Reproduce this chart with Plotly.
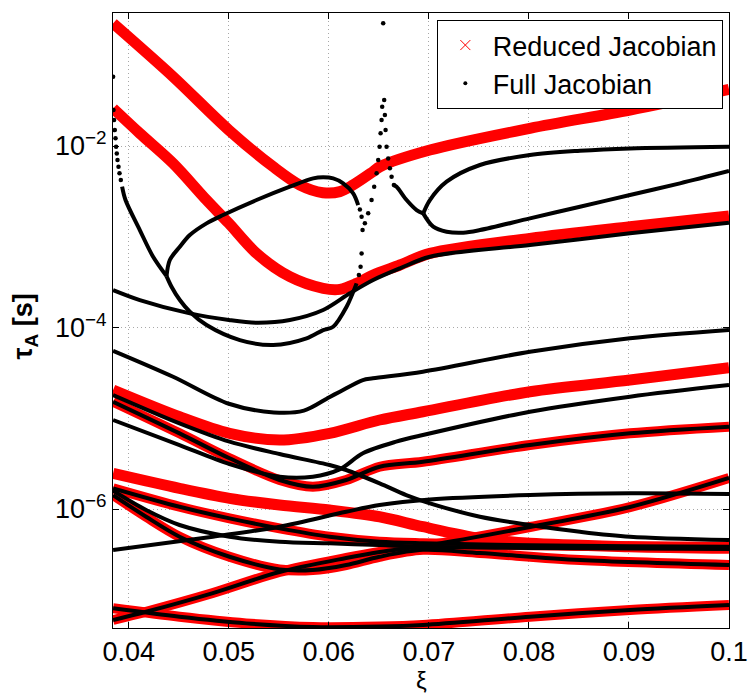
import numpy as np
import plotly.graph_objects as go

# ---------------- data (xi, log10 of tau_A) ----------------
# Reduced Jacobian (red) only
R1_XI = [0.03843, 0.04443, 0.0500, 0.05443, 0.0571, 0.0594, 0.0611, 0.0624, 0.0644, 0.0651, 0.0701, 0.0801, 0.0901, 0.1000]
R1_LG = [-0.648, -1.236, -1.824, -2.228, -2.430, -2.514, -2.503, -2.430, -2.283, -2.228, -2.044, -1.805, -1.603, -1.375]

R2_XI = [0.03843, 0.0411, 0.04443, 0.04777, 0.0500, 0.05277, 0.0561, 0.05943, 0.0611, 0.06277, 0.06443, 0.0671, 0.0701, 0.0801, 0.0901, 0.1000]
R2_LG = [-1.585, -1.860, -2.191, -2.595, -2.852, -3.183, -3.440, -3.568, -3.579, -3.513, -3.421, -3.311, -3.183, -3.017, -2.889, -2.771]

R3_XI = [0.03843, 0.04507, 0.05007, 0.05507, 0.06007, 0.06507, 0.0694, 0.0801, 0.0901, 0.1000]
R3_LG = [-4.689, -4.983, -5.166, -5.240, -5.166, -5.019, -4.928, -4.707, -4.579, -4.443]

R5_XI = [0.03843, 0.04507, 0.05007, 0.05507, 0.06007, 0.06507, 0.0694, 0.0751, 0.0801, 0.0901, 0.1000]
R5_LG = [-5.607, -5.772, -5.882, -5.956, -6.011, -6.085, -6.195, -6.323, -6.378, -6.415, -6.433]

# Curves where both Jacobians agree (red under black)
R4_XI = [0.03843, 0.04507, 0.05007, 0.05507, 0.0584, 0.06173, 0.06507, 0.0694, 0.0801, 0.0901, 0.1000]
R4_LG = [-4.818, -5.166, -5.441, -5.680, -5.754, -5.680, -5.534, -5.479, -5.295, -5.166, -5.093]

K1_XI = [0.03843, 0.04507, 0.05007, 0.05507, 0.06007, 0.06507, 0.0694, 0.0801, 0.0901, 0.1000]
K1_LG = [-5.772, -5.975, -6.103, -6.213, -6.305, -6.360, -6.378, -6.400, -6.410, -6.415]

K3_XI = [0.03843, 0.04173, 0.04507, 0.05007, 0.05507, 0.0584, 0.06173, 0.06507, 0.0694, 0.0751, 0.0851, 0.1000]
K3_LG = [-5.846, -6.085, -6.305, -6.526, -6.665, -6.672, -6.617, -6.526, -6.450, -6.485, -6.562, -6.617]

A_XI = [0.03843, 0.04173, 0.0484, 0.05507, 0.06173, 0.06507, 0.0701, 0.0801, 0.0901, 0.1000]
A_LG = [-7.223, -7.132, -6.926, -6.694, -6.540, -6.474, -6.397, -6.198, -5.978, -5.658]

C_XI = [0.03843, 0.04507, 0.05173, 0.0584, 0.0651, 0.0694, 0.0801, 0.0901, 0.1000]
C_LG = [-7.094, -7.187, -7.260, -7.300, -7.295, -7.278, -7.187, -7.113, -7.058]

# Full Jacobian (black) only
BMID_XI = [0.03843, 0.0411, 0.0461, 0.0500, 0.05277, 0.0561, 0.05943, 0.0621, 0.06443, 0.0671, 0.0701, 0.0801, 0.0901, 0.1000]
BMID_LG = [-3.587, -3.697, -3.844, -3.917, -3.947, -3.917, -3.807, -3.623, -3.477, -3.348, -3.220, -3.091, -2.962, -2.845]

D_XI = [0.03933, 0.03967, 0.0411, 0.04243, 0.04377]
D_LG = [-2.448, -2.595, -2.926, -3.220, -3.433]

LOOPU_XI = [0.04377, 0.0441, 0.0451, 0.0461, 0.04777, 0.04943, 0.05277, 0.0561, 0.05843, 0.05943, 0.06043, 0.06143, 0.06243, 0.06293]
LOOPU_LG = [-3.433, -3.256, -3.110, -2.981, -2.852, -2.760, -2.595, -2.448, -2.356, -2.345, -2.356, -2.411, -2.521, -2.650]

LOOPL_XI = [0.04377, 0.04427, 0.0451, 0.0461, 0.04777, 0.0511, 0.05443, 0.05777, 0.05943, 0.06043, 0.06177, 0.06277]
LOOPL_LG = [-3.433, -3.550, -3.697, -3.826, -3.972, -4.138, -4.193, -4.119, -4.028, -3.991, -3.771, -3.513]

SPIKER_XI = [0.0665, 0.06677, 0.06777, 0.06877, 0.06943]
SPIKER_LG = [-2.430, -2.448, -2.595, -2.705, -2.742]

RU_XI = [0.06943, 0.0701, 0.07177, 0.0751, 0.0801, 0.0851, 0.0901, 0.1000]
RU_LG = [-2.742, -2.595, -2.393, -2.209, -2.099, -2.052, -2.026, -2.007]

RL_XI = [0.06943, 0.07043, 0.07177, 0.07343, 0.0751, 0.0801, 0.0851, 0.0901, 0.0951, 0.1000]
RL_LG = [-2.742, -2.889, -2.944, -2.955, -2.926, -2.797, -2.669, -2.540, -2.411, -2.275]

B3_XI = [0.03843, 0.04443, 0.0500, 0.0545, 0.0575, 0.0600, 0.0611, 0.0634, 0.0644, 0.0694, 0.0801, 0.0901, 0.1000]
B3_LG = [-4.256, -4.542, -4.840, -4.935, -4.915, -4.770, -4.707, -4.579, -4.560, -4.487, -4.267, -4.119, -4.028]

BDESC_XI = [0.03843, 0.04507, 0.05007, 0.05507, 0.06007, 0.06173, 0.06507, 0.06773, 0.0701, 0.0751, 0.0801, 0.0851, 0.0901, 0.1000]
BDESC_LG = [-4.744, -5.056, -5.258, -5.394, -5.515, -5.570, -5.717, -5.846, -5.937, -6.085, -6.176, -6.250, -6.305, -6.342]

B5_XI = [0.03843, 0.04507, 0.05007, 0.05507, 0.0584, 0.06107, 0.0634, 0.06673, 0.0694, 0.0801, 0.0901, 0.1000]
B5_LG = [-5.019, -5.295, -5.504, -5.644, -5.644, -5.563, -5.386, -5.258, -5.185, -4.928, -4.762, -4.634]

K2_XI = [0.03843, 0.04173, 0.04507, 0.05007, 0.05507, 0.06007, 0.06507, 0.0694, 0.0801, 0.1000]
K2_LG = [-5.798, -6.011, -6.176, -6.305, -6.360, -6.378, -6.397, -6.415, -6.430, -6.440]

L_XI = [0.03843, 0.0484, 0.05507, 0.06173, 0.06507, 0.0701, 0.0801, 0.0901, 0.1000]
L_LG = [-6.452, -6.305, -6.195, -6.030, -5.956, -5.895, -5.846, -5.827, -5.835]

# sparse single points of the Full Jacobian where curves are steep
DOTS_XI = [0.03843, 0.03847, 0.03853, 0.0386, 0.03867, 0.03873, 0.0388, 0.03887, 0.03897, 0.03907, 0.0392,
           0.0631, 0.06327, 0.06337, 0.06327, 0.06317, 0.0630,
           0.0636, 0.06393, 0.06427, 0.06453, 0.06477, 0.06493, 0.06507, 0.06517, 0.06527, 0.06533, 0.06543,
           0.06553, 0.0656, 0.06567, 0.06577, 0.06593, 0.0661, 0.06627, 0.0665]
DOTS_LG = [-1.236, -1.603, -1.713, -1.824, -1.915, -2.007, -2.081, -2.154, -2.228, -2.301, -2.375,
           -2.700, -2.779, -2.926, -3.183, -3.330, -3.420,
           -2.852, -2.742, -2.595, -2.448, -2.301, -2.154, -2.007, -1.860, -1.713, -1.567, -0.648,
           -1.493, -1.658, -1.824, -2.007, -2.136, -2.246, -2.338, -2.430]

X_TICKS = [0.04, 0.05, 0.06, 0.07, 0.08, 0.09, 0.1]
X_TICK_TEXT = ["0.04", "0.05", "0.06", "0.07", "0.08", "0.09", "0.1"]
Y_TICKS = [1e-6, 1e-4, 1e-2]
Y_TICK_TEXT = ["10<sup>−6</sup>", "10<sup>−4</sup>", "10<sup>−2</sup>"]

# ---------------- figure ----------------
FONT = "Liberation Sans, Arial, Helvetica, sans-serif"
fig = go.Figure()


def tau(lg):
    return (10.0 ** np.array(lg)).tolist()


def add_line(xs, lg, color, width):
    fig.add_trace(go.Scatter(x=xs, y=tau(lg), mode="lines",
                             line=dict(color=color, width=width, shape="spline", smoothing=0.9),
                             showlegend=False, hoverinfo="skip"))


RED = "#ff0000"
for xs, lg in [(R1_XI, R1_LG), (R2_XI, R2_LG), (R3_XI, R3_LG), (R5_XI, R5_LG)]:
    add_line(xs, lg, RED, 11)
for xs, lg in [(R4_XI, R4_LG), (K1_XI, K1_LG), (K3_XI, K3_LG), (A_XI, A_LG), (C_XI, C_LG)]:
    add_line(xs, lg, RED, 10)

for xs, lg in [(R4_XI, R4_LG), (K1_XI, K1_LG), (K3_XI, K3_LG), (A_XI, A_LG), (C_XI, C_LG),
               (BMID_XI, BMID_LG), (D_XI, D_LG), (LOOPU_XI, LOOPU_LG), (LOOPL_XI, LOOPL_LG),
               (SPIKER_XI, SPIKER_LG), (RU_XI, RU_LG), (RL_XI, RL_LG), (B3_XI, B3_LG),
               (BDESC_XI, BDESC_LG), (B5_XI, B5_LG), (K2_XI, K2_LG), (L_XI, L_LG)]:
    add_line(xs, lg, "black", 4)

fig.add_trace(go.Scatter(x=DOTS_XI, y=tau(DOTS_LG), mode="markers",
                         marker=dict(color="black", size=4.5), showlegend=False, hoverinfo="skip"))

# legend entries
fig.add_trace(go.Scatter(x=[None], y=[None], mode="markers", name="Reduced Jacobian",
                         marker=dict(symbol="x-thin", size=10, color=RED, line=dict(color=RED, width=1))))
fig.add_trace(go.Scatter(x=[None], y=[None], mode="markers", name="Full Jacobian",
                         marker=dict(symbol="circle", size=4, color="black")))

axis_common = dict(showline=True, linecolor="black", linewidth=1, mirror="ticks",
                   ticks="inside", ticklen=6, tickcolor="black",
                   showgrid=True, gridcolor="#a8a8a8", griddash="1px,3px", gridwidth=1,
                   zeroline=False, tickfont=dict(family=FONT, size=27, color="black"))

fig.update_xaxes(range=[0.03842, 0.1], tickvals=X_TICKS, ticktext=X_TICK_TEXT, **axis_common)
fig.update_yaxes(type="log", range=[-7.311, -0.534], tickvals=Y_TICKS, ticktext=Y_TICK_TEXT,
                 **axis_common)

# axis labels as annotations (placed as in the reference)
fig.add_annotation(text="ξ", xref="paper", yref="paper", x=0.5, y=-0.085,
                   xanchor="center", yanchor="middle", showarrow=False,
                   font=dict(family=FONT, size=24, color="black"))
fig.add_annotation(text="<b>τ<sub>A</sub> [s]</b>", xref="paper", yref="paper", x=-0.143, y=0.49,
                   xanchor="center", yanchor="middle", textangle=-90, showarrow=False,
                   font=dict(family=FONT, size=27, color="black"))

fig.update_layout(
    width=748, height=694,
    margin=dict(l=113, r=19, t=13, b=66, autoexpand=False),
    paper_bgcolor="white", plot_bgcolor="white",
    font=dict(family=FONT, size=27, color="black"),
    legend=dict(x=0.990, y=0.9886, xanchor="right", yanchor="top",
                bgcolor="white", bordercolor="black", borderwidth=1,
                font=dict(family=FONT, size=27, color="black"),
                itemwidth=45, tracegroupgap=0),
)

fig.write_html("out.html")
